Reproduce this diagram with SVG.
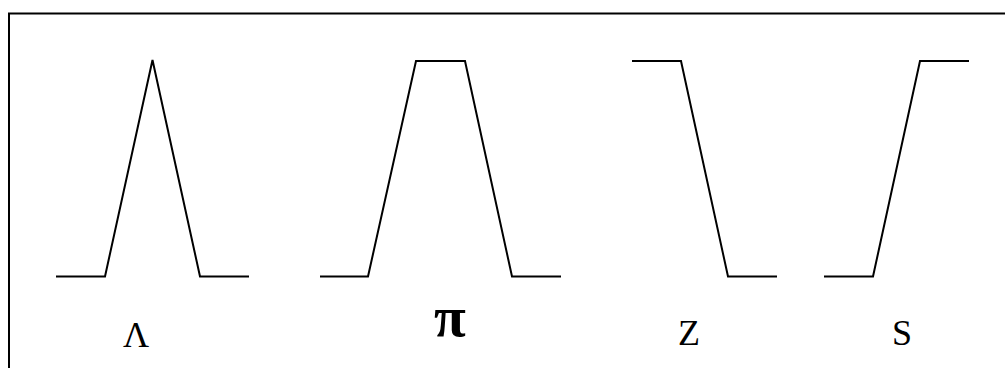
<svg xmlns="http://www.w3.org/2000/svg" width="1005" height="368" viewBox="0 0 1005 368">
<style>
.c{fill:none;stroke:#000;stroke-width:2;stroke-linejoin:miter}
.t{font-family:"Liberation Serif","Times New Roman",serif;font-size:36px;fill:#000;text-anchor:middle}
.p{font-family:"Liberation Serif","Times New Roman",serif;font-size:58px;font-weight:bold;fill:#000;text-anchor:middle}
</style>
<rect x="0" y="0" width="1005" height="368" fill="#fff"/>
<rect x="9" y="13.5" width="1010" height="370" fill="none" stroke="#000" stroke-width="2"/>
<g id="connectors">
<g id="lambda"><polyline class="c" points="56,276.5 105,276.5 152.5,60 200,276.5 249,276.5"/><text class="t" x="136" y="347">Λ</text></g>
<g id="pi"><polyline class="c" points="320,276.5 368,276.5 416,61 465,61 512,276.5 561,276.5"/><text class="p" x="450" y="336">π</text></g>
<g id="z"><polyline class="c" points="632,61 681,61 728,276.5 777,276.5"/><text class="t" x="689" y="345">Z</text></g>
<g id="s"><polyline class="c" points="824,276.5 873,276.5 920,61 969,61"/><text class="t" x="902" y="345">S</text></g>
</g>
</svg>
